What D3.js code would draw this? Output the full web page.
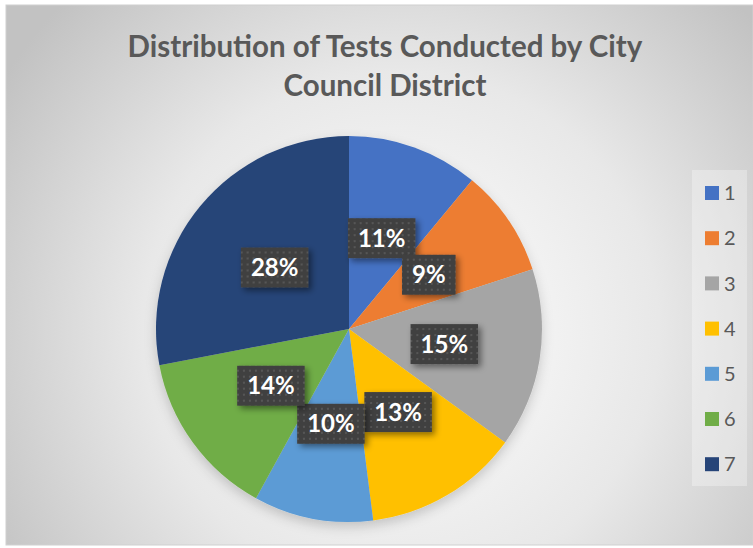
<!DOCTYPE html>
<html>
<head>
<meta charset="utf-8">
<script src="https://cdn.jsdelivr.net/npm/d3@7"></script>
<style>
  body { margin: 0; background: #fff; }
  svg { display: block; font-family: Lato, "Open Sans", sans-serif; }
</style>
</head>
<body>
<svg id="chart" width="753" height="548"></svg>
<script>
const districts = ["1", "2", "3", "4", "5", "6", "7"];
const shares = [11, 9, 15, 13, 10, 14, 28];
const colors = ["#4472C4", "#ED7D31", "#A5A5A5", "#FFC000", "#5B9BD5", "#70AD47", "#264478"];
const titleLines = ["Distribution of Tests Conducted by City", "Council District"];

const svg = d3.select("#chart");
const width = +svg.attr("width");
const height = +svg.attr("height");

const cx = 349, cy = 329, radius = 193;

const defs = svg.append("defs");

// chart background: white centre fading to grey
const bg = defs.append("radialGradient")
  .attr("id", "bgGrad")
  .attr("gradientUnits", "userSpaceOnUse")
  .attr("cx", 400).attr("cy", 330).attr("r", 470);
bg.append("stop").attr("offset", "0").attr("stop-color", "#ffffff");
bg.append("stop").attr("offset", "0.55").attr("stop-color", "#e8e8e8");
bg.append("stop").attr("offset", "1").attr("stop-color", "#c2c2c2");

// dotted fill for the label boxes
const pat = defs.append("pattern")
  .attr("id", "dots")
  .attr("patternUnits", "userSpaceOnUse")
  .attr("width", 6).attr("height", 6);
pat.append("rect").attr("width", 6).attr("height", 6).attr("fill", "#404040");
pat.append("rect").attr("x", 2).attr("y", 2).attr("width", 2).attr("height", 2).attr("fill", "#575757");

const shadow = defs.append("filter").attr("id", "shadow")
  .attr("x", "-30%").attr("y", "-30%").attr("width", "160%").attr("height", "160%");
shadow.append("feDropShadow")
  .attr("dx", 3).attr("dy", 3).attr("stdDeviation", 3)
  .attr("flood-color", "#000").attr("flood-opacity", 0.45);

const pieShadow = defs.append("filter").attr("id", "pieShadow")
  .attr("x", "-20%").attr("y", "-20%").attr("width", "140%").attr("height", "150%");
pieShadow.append("feDropShadow")
  .attr("dx", 0).attr("dy", 5).attr("stdDeviation", 6)
  .attr("flood-color", "#000").attr("flood-opacity", 0.18);

svg.append("rect")
  .attr("x", 6).attr("y", 5)
  .attr("width", width - 6).attr("height", height - 8)
  .attr("fill", "url(#bgGrad)")
  .attr("stroke", "#d0d0d0");

// Title
svg.append("g").selectAll("text")
  .data(titleLines)
  .enter()
  .append("text")
    .attr("x", 385)
    .attr("y", (d, i) => 57 + i * 39)
    .attr("text-anchor", "middle")
    .attr("font-size", "29.5px")
    .attr("font-weight", "bold")
    .attr("fill", "#595959")
    .text(d => d);

// Pie
const color = d3.scaleOrdinal().domain(districts).range(colors);
const pie = d3.pie().sort(null).value(d => d.value);
const arcs = pie(districts.map((d, i) => ({ name: d, value: shares[i] })));
const arc = d3.arc().innerRadius(0).outerRadius(radius);

const pieG = svg.append("g")
  .attr("transform", `translate(${cx},${cy})`);

pieG.append("g")
  .attr("filter", "url(#pieShadow)")
  .selectAll("path")
  .data(arcs)
  .enter()
  .append("path")
    .attr("d", arc)
    .attr("fill", d => color(d.data.name));

// Data labels
const total = d3.sum(shares);
const labels = pieG.selectAll(".lbl")
  .data(arcs)
  .enter()
  .append("g")
    .attr("class", "lbl")
    .attr("transform", d => `translate(${arc.centroid(d)})`);

labels.append("rect").attr("fill", "url(#dots)").attr("filter", "url(#shadow)");
labels.append("text")
  .attr("text-anchor", "middle")
  .attr("dy", "0.36em")
  .attr("font-size", "24px")
  .attr("font-weight", "bold")
  .attr("fill", "#ffffff")
  .text(d => `${Math.round(d.data.value / total * 100)}%`);

labels.each(function () {
  const g = d3.select(this);
  const w = g.select("text").node().getComputedTextLength();
  g.select("rect")
    .attr("x", -w / 2 - 10).attr("y", -20)
    .attr("width", w + 20).attr("height", 40);
});

// Legend
const legend = svg.append("g").attr("transform", "translate(692,170)");
legend.append("rect")
  .attr("width", 55).attr("height", 316)
  .attr("fill", "#ffffff").attr("fill-opacity", 0.3);

const item = legend.selectAll(".item")
  .data(districts)
  .enter()
  .append("g")
    .attr("class", "item")
    .attr("transform", (d, i) => `translate(0,${23 + i * 45.2})`);

item.append("rect")
  .attr("x", 13).attr("y", -7)
  .attr("width", 14).attr("height", 14)
  .attr("fill", d => color(d));

item.append("text")
  .attr("x", 32)
  .attr("dy", "0.36em")
  .attr("font-size", "20px")
  .attr("fill", "#595959")
  .text(d => d);
</script>
</body>
</html>
